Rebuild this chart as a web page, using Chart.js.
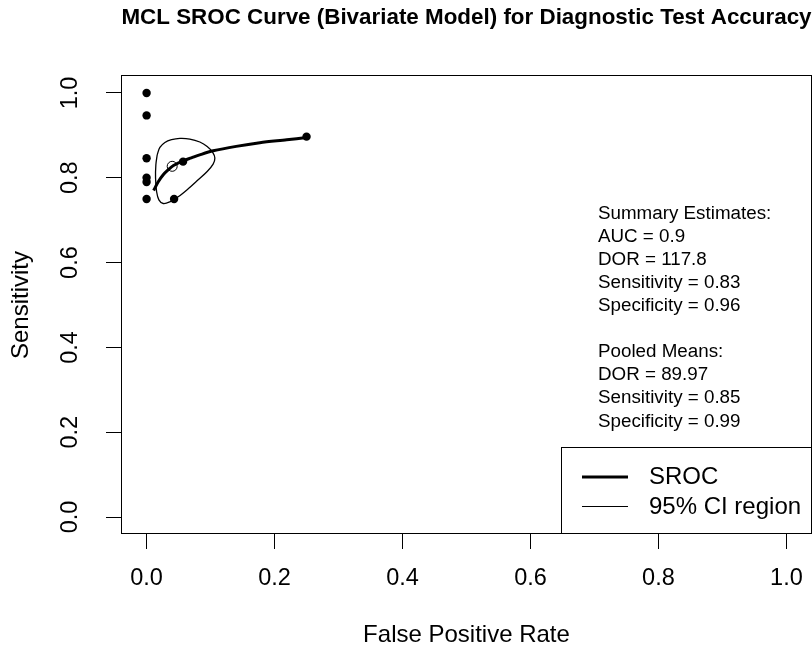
<!DOCTYPE html>
<html>
<head>
<meta charset="utf-8">
<script src="https://cdn.jsdelivr.net/npm/chart.js@4/dist/chart.umd.min.js"></script>
<style>
html,body{margin:0;padding:0;background:#fff;}
#wrap{width:812px;height:654px;}
</style>
</head>
<body>
<div id="wrap"><canvas id="c" width="812" height="654"></canvas></div>
<script>
// ---- Data ----
const studyFPR  = [0, 0, 0, 0, 0, 0, 0.043, 0.057, 0.25];
const studySens = [1.0, 0.947, 0.846, 0.80, 0.79, 0.75, 0.75, 0.838, 0.897];

const summaryFPR  = [0.04];
const summarySens = [0.827];

const srocFPR  = [0.011, 0.018, 0.026, 0.034, 0.042, 0.057, 0.070, 0.083, 0.104, 0.140, 0.177, 0.219, 0.250];
const srocSens = [0.770, 0.790, 0.807, 0.819, 0.829, 0.840, 0.847, 0.854, 0.8635, 0.874, 0.8825, 0.8895, 0.895];

const ciFPR  = [0.0166, 0.0208, 0.0286, 0.039, 0.052, 0.0676, 0.0832, 0.0947, 0.1031, 0.1067, 0.104, 0.0947, 0.0806, 0.065, 0.0494, 0.0364, 0.026, 0.0192, 0.0156, 0.014, 0.0145, 0.0166];
const ciSens = [0.8543, 0.8715, 0.8833, 0.8897, 0.8928, 0.8913, 0.8843, 0.8739, 0.8606, 0.8464, 0.8323, 0.8148, 0.7952, 0.774, 0.7551, 0.7433, 0.7393, 0.748, 0.7676, 0.7992, 0.8307, 0.8543];

const xTickValues = [0, 0.2, 0.4, 0.6, 0.8, 1.0];
const yTickValues = [0, 0.2, 0.4, 0.6, 0.8, 1.0];

const chartTitle = 'MCL SROC Curve (Bivariate Model) for Diagnostic Test Accuracy';
const xTitle = 'False Positive Rate';
const yTitle = 'Sensitivity';

const summaryLines = ['Summary Estimates:', 'AUC = 0.9', 'DOR = 117.8', 'Sensitivity = 0.83', 'Specificity = 0.96'];
const pooledLines  = ['Pooled Means:', 'DOR = 89.97', 'Sensitivity = 0.85', 'Specificity = 0.99'];
const legendLabels = ['SROC', '95% CI region'];

// ---- Build ----
const FONT = "'Liberation Sans', Arial, Helvetica, sans-serif";
const zip = (xs, ys) => xs.map((x, i) => ({x: x, y: ys[i]}));

const overlay = {
  id: 'overlay',
  beforeDatasetsDraw(chart) {
    const ctx = chart.ctx, a = chart.chartArea;
    ctx.save();
    ctx.strokeStyle = '#000';
    ctx.lineWidth = 1;
    ctx.strokeRect(Math.round(a.left) + 0.5, Math.round(a.top) - 0.5, Math.round(a.right - a.left) - 1, Math.round(a.bottom - a.top));
    ctx.restore();
  },
  afterDraw(chart) {
    const ctx = chart.ctx, a = chart.chartArea;
    ctx.save();
    ctx.fillStyle = '#000';
    ctx.textAlign = 'left';
    ctx.textBaseline = 'middle';
    ctx.font = '18.8px ' + FONT;
    const tx = 598, ty0 = 213.5, dy = 23.1;
    summaryLines.forEach((s, i) => ctx.fillText(s, tx, ty0 + i * dy));
    pooledLines.forEach((s, i) => ctx.fillText(s, tx, ty0 + (i + summaryLines.length + 1) * dy));

    // legend box
    const bR = Math.round(a.right) - 0.5, bB = Math.round(a.bottom) - 0.5;
    const bL = 561.5, bT = 447.5;
    ctx.fillStyle = '#fff';
    ctx.fillRect(bL, bT, bR - bL, bB - bT);
    ctx.strokeStyle = '#000';
    ctx.lineWidth = 1;
    ctx.strokeRect(bL, bT, bR - bL, bB - bT);
    const rows = [477, 506.5];
    const widths = [3, 1];
    legendLabels.forEach((lab, i) => {
      ctx.beginPath();
      ctx.lineWidth = widths[i];
      ctx.moveTo(582, rows[i]);
      ctx.lineTo(628, rows[i]);
      ctx.stroke();
      ctx.fillStyle = '#000';
      ctx.font = '24px ' + FONT;
      ctx.fillText(lab, 649, Math.round(rows[i]));
    });
    ctx.restore();
  }
};

new Chart(document.getElementById('c'), {
  type: 'scatter',
  data: {
    datasets: [
      { label: legendLabels[1], data: zip(ciFPR, ciSens), showLine: true, borderColor: '#000', borderWidth: 1.3,
        pointRadius: 0, tension: 0.35, fill: false },
      { label: legendLabels[0], data: zip(srocFPR, srocSens), showLine: true, borderColor: '#000', borderWidth: 3,
        pointRadius: 0, tension: 0.3, fill: false },
      { label: 'Studies', data: zip(studyFPR, studySens), showLine: false, pointRadius: 4.2,
        backgroundColor: '#000', borderColor: '#000', borderWidth: 0 },
      { label: 'Summary', data: zip(summaryFPR, summarySens), showLine: false, pointRadius: 5,
        backgroundColor: 'rgba(0,0,0,0)', borderColor: '#000', borderWidth: 1 }
    ]
  },
  options: {
    responsive: false,
    animation: false,
    devicePixelRatio: 1,
    layout: { padding: 0, autoPadding: false },
    plugins: {
      legend: { display: false },
      tooltip: { enabled: false },
      title: {
        display: true, fullSize: false, text: chartTitle, color: '#000',
        font: { family: FONT, size: 22.4, weight: 'bold' },
        padding: { top: 4.6, bottom: 44.5 }
      }
    },
    scales: {
      x: {
        type: 'linear', min: -0.04, max: 1.04,
        afterBuildTicks: s => { s.ticks = xTickValues.map(v => ({ value: v })); },
        afterFit: s => { s.height = 120; s.paddingLeft = 0; s.paddingRight = 0; },
        ticks: { callback: v => Number(v).toFixed(1), color: '#000', font: { family: FONT, size: 23.5 },
                 padding: 15.9, minRotation: 0, maxRotation: 0, autoSkip: false },
        grid: { drawOnChartArea: false, drawTicks: true, tickLength: 15, color: '#000', lineWidth: 1 },
        border: { display: false },
        title: { display: true, text: xTitle, color: '#000', font: { family: FONT, size: 24 },
                 padding: { top: 0, bottom: 4.6 } }
      },
      y: {
        type: 'linear', min: -0.04, max: 1.04,
        afterBuildTicks: s => { s.ticks = yTickValues.map(v => ({ value: v })); },
        afterFit: s => { s.width = 121; s.paddingTop = 0; s.paddingBottom = 0; },
        ticks: { callback: v => Number(v).toFixed(1), color: '#000', font: { family: FONT, size: 23.5 },
                 padding: 18.8, minRotation: 90, maxRotation: 90, crossAlign: 'center', autoSkip: false },
        grid: { drawOnChartArea: false, drawTicks: true, tickLength: 15, color: '#000', lineWidth: 1 },
        border: { display: false },
        title: { display: true, text: yTitle, color: '#000', font: { family: FONT, size: 24 },
                 padding: { top: 7.3, bottom: 0 } }
      }
    }
  },
  plugins: [overlay]
});
</script>
</body>
</html>
